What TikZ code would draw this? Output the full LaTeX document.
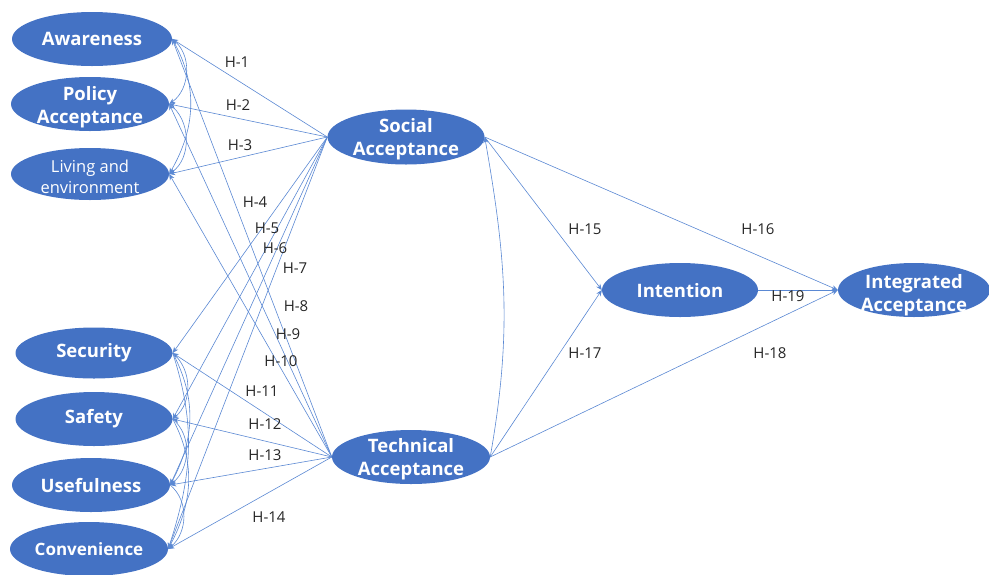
\documentclass[tikz,border=0pt]{standalone}
\usepackage{fontspec}
\setmainfont{Open Sans}
\usetikzlibrary{arrows.meta,shapes.geometric}
\definecolor{ellblue}{HTML}{4472C4}
\definecolor{lnblue}{HTML}{5A88D3}
\begin{document}
\begin{tikzpicture}[x=1pt,y=-1pt,
  ell/.style={ellipse,fill=ellblue,draw=none,inner sep=0pt,minimum width=157pt,minimum height=54pt},
  tl/.style={font=\fontsize{18.5}{23.5}\selectfont\bfseries,text=white,align=center,inner sep=0pt},
  tlr/.style={font=\fontsize{16.5}{21.5}\selectfont,text=white,align=center,inner sep=0pt},
  hl/.style={font=\fontsize{15}{17}\selectfont,text=black!85,inner sep=0pt},
  arr/.style={draw=lnblue,line width=0.6pt,-{Stealth[length=6pt,width=5pt]}}]
\useasboundingbox (0,0) rectangle (989,574);
\clip (0,0) rectangle (989,574);
% ellipses
\node[ell,minimum width=160pt] (aw) at (92,39) {};
\node[ell,minimum width=158pt] (pol) at (90,104) {};
\node[ell,minimum width=158pt,minimum height=52pt] (liv) at (90,174) {};
\node[ell,minimum width=157pt,minimum height=51pt] (sec) at (94,353) {};
\node[ell] (saf) at (94,419) {};
\node[ell,minimum width=158pt] (use) at (91,485) {};
\node[ell,minimum width=158pt] (con) at (89,549) {};
\node[ell,minimum width=157pt,minimum height=55pt] (soc) at (406,137) {};
\node[ell,minimum width=158pt] (tec) at (411,457) {};
\node[ell,minimum width=156pt] (int) at (680,290) {};
\node[ell,minimum width=152pt] (ia) at (914,290) {};
% texts
\node[tl] (taw) at (92,39) {Awareness};
\node[tl] (tpol) at (90,107) {Policy\\Acceptance};
\node[tlr] (tliv) at (90,177) {Living and\\environment};
\node[tl] (tsec) at (94,353) {Security};
\node[tl] (tsaf) at (94,419) {Safety};
\node[tl] (tuse) at (91,486) {Usefulness};
\node[tl,font=\fontsize{17}{20}\selectfont\bfseries] (tcon) at (89,549) {Convenience};
\node[tl] (tsoc) at (406,139) {Social\\Acceptance};
\node[tl] (ttec) at (411,459) {Technical\\Acceptance};
\node[tl] (tint) at (680,291) {Intention};
\node[tl] (tia) at (914,295) {Integrated\\Acceptance};
% paths from Social and Technical Acceptance
\foreach \t in {aw,pol,liv,sec,saf,use,con}{
  \draw[arr] (soc.west) -- (\t.east);
  \draw[arr] (tec.west) -- (\t.east);
}
\draw[arr] (soc.east) -- (int.west);
\draw[arr] (soc.east) -- (ia.west);
\draw[arr] (tec.east) -- (int.west);
\draw[arr] (tec.east) -- (ia.west);
\draw[arr] (int.east) -- (ia.west);
\draw[arr] (tec.east) to[out=80,in=-80] (soc.east);
% covariances group 1
\draw[arr] (aw.east) to[out=-35,in=35] (pol.east);
\draw[arr] (pol.east) to[out=-35,in=35] (liv.east);
\draw[arr] (aw.east) to[out=-60,in=60] (liv.east);
% covariances group 2
\draw[arr] (sec.east) to[out=-40,in=40] (saf.east);
\draw[arr] (saf.east) to[out=-40,in=40] (use.east);
\draw[arr] (use.east) to[out=-40,in=40] (con.east);
\draw[arr] (sec.east) to[out=-62,in=62] (use.east);
\draw[arr] (saf.east) to[out=-62,in=62] (con.east);
\draw[arr] (sec.east) to[out=-72,in=72] (con.east);
% labels
\node[hl] (h1) at (237,62) {H-1};
\node[hl] (h2) at (238,105) {H-2};
\node[hl] (h3) at (240,145) {H-3};
\node[hl] (h4) at (255,202) {H-4};
\node[hl] (h5) at (267,228) {H-5};
\node[hl] (h6) at (275,248) {H-6};
\node[hl] (h7) at (295,268) {H-7};
\node[hl] (h8) at (296,306) {H-8};
\node[hl] (h9) at (288,334) {H-9};
\node[hl] (h10) at (281,361) {H-10};
\node[hl] (h11) at (262,391) {H-11};
\node[hl] (h12) at (265,424) {H-12};
\node[hl] (h13) at (265,455) {H-13};
\node[hl] (h14) at (269,517) {H-14};
\node[hl] (h15) at (585,229) {H-15};
\node[hl] (h16) at (758,229) {H-16};
\node[hl] (h17) at (585,353) {H-17};
\node[hl] (h18) at (770,353) {H-18};
\node[hl] (h19) at (788,296) {H-19};
\end{tikzpicture}
\end{document}
